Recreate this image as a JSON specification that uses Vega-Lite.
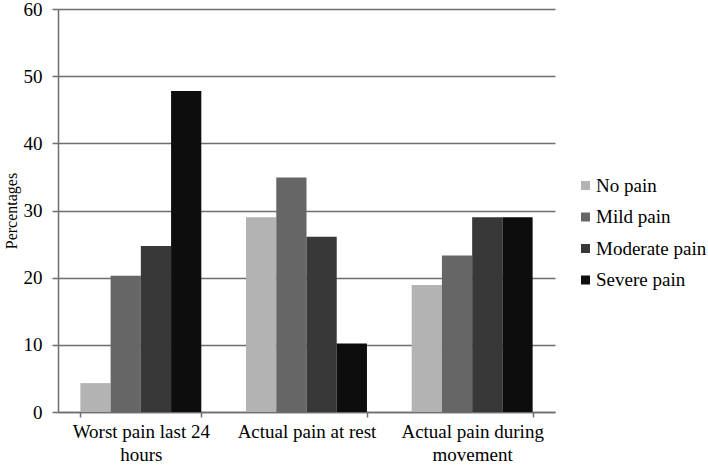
{
  "$schema": "https://vega.github.io/schema/vega-lite/v6.json",
  "width": 497,
  "height": 403,
  "autosize": {"type": "none"},
  "padding": {"left": 58, "top": 9, "right": 153, "bottom": 53},
  "background": "white",
  "config": {
    "font": "Liberation Serif",
    "view": {"stroke": null}
  },
  "data": {
    "values": [
      {"cat": "Worst pain last 24 hours", "level": "No pain", "value": 4.3},
      {"cat": "Worst pain last 24 hours", "level": "Mild pain", "value": 20.3},
      {"cat": "Worst pain last 24 hours", "level": "Moderate pain", "value": 24.7},
      {"cat": "Worst pain last 24 hours", "level": "Severe pain", "value": 47.8},
      {"cat": "Actual pain at rest", "level": "No pain", "value": 29.0},
      {"cat": "Actual pain at rest", "level": "Mild pain", "value": 34.9},
      {"cat": "Actual pain at rest", "level": "Moderate pain", "value": 26.1},
      {"cat": "Actual pain at rest", "level": "Severe pain", "value": 10.2},
      {"cat": "Actual pain during movement", "level": "No pain", "value": 18.9},
      {"cat": "Actual pain during movement", "level": "Mild pain", "value": 23.3},
      {"cat": "Actual pain during movement", "level": "Moderate pain", "value": 29.0},
      {"cat": "Actual pain during movement", "level": "Severe pain", "value": 29.0}
    ]
  },
  "mark": {"type": "bar"},
  "encoding": {
    "x": {
      "field": "cat",
      "type": "nominal",
      "sort": ["Worst pain last 24 hours", "Actual pain at rest", "Actual pain during movement"],
      "scale": {"paddingInner": 0.27, "paddingOuter": 0.135},
      "axis": {
        "title": null,
        "labelAngle": 0,
        "labelFont": "Liberation Serif",
        "labelColor": "#000",
        "labelFontSize": 19,
        "labelPadding": 5,
        "labelLineHeight": 23,
        "labelBaseline": "top",
        "labelExpr": "datum.label == 'Worst pain last 24 hours' ? ['Worst pain last 24', 'hours'] : datum.label == 'Actual pain during movement' ? ['Actual pain during', 'movement'] : datum.label",
        "tickBand": "extent",
        "tickSize": 5,
        "tickColor": "#6e6e6e",
        "tickWidth": 1.5,
        "domainColor": "#6e6e6e",
        "domainWidth": 1.5,
        "grid": false
      }
    },
    "xOffset": {
      "field": "level",
      "type": "nominal",
      "sort": ["No pain", "Mild pain", "Moderate pain", "Severe pain"],
      "scale": {"paddingInner": 0, "paddingOuter": 0}
    },
    "y": {
      "field": "value",
      "type": "quantitative",
      "scale": {"domain": [0, 60], "nice": false},
      "axis": {
        "title": "Percentages",
        "titleFont": "Liberation Serif",
        "titleColor": "#000",
        "titleFontSize": 16,
        "titleFontWeight": "normal",
        "titlePadding": 4,
        "values": [0, 10, 20, 30, 40, 50, 60],
        "labelFont": "Liberation Serif",
        "labelColor": "#000",
        "labelFontSize": 19,
        "labelPadding": 10,
        "tickSize": 6,
        "tickColor": "#6e6e6e",
        "tickWidth": 1.5,
        "domainColor": "#6e6e6e",
        "domainWidth": 1.5,
        "grid": true,
        "gridColor": "#6e6e6e",
        "gridWidth": 1.5
      }
    },
    "color": {
      "field": "level",
      "type": "nominal",
      "sort": ["No pain", "Mild pain", "Moderate pain", "Severe pain"],
      "scale": {
        "domain": ["No pain", "Mild pain", "Moderate pain", "Severe pain"],
        "range": ["#b3b3b3", "#666666", "#383838", "#0d0d0d"]
      },
      "legend": {
        "title": null,
        "orient": "none",
        "legendX": 518,
        "legendY": 167,
        "symbolType": "square",
        "symbolSize": 81,
        "symbolStrokeWidth": 0,
        "labelFont": "Liberation Serif",
        "labelFontSize": 19,
        "labelColor": "#000",
        "rowPadding": 11.5,
        "labelOffset": 1
      }
    }
  }
}
